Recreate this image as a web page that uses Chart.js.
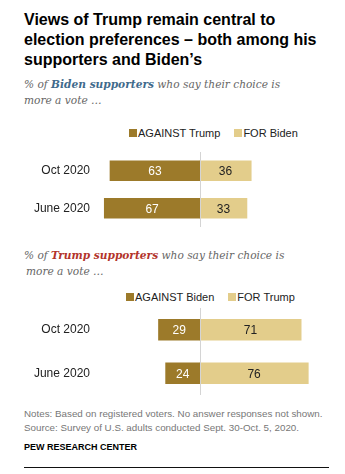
<!DOCTYPE html>
<html>
<head>
<meta charset="utf-8">
<script src="https://cdn.jsdelivr.net/npm/chart.js@4.4.1/dist/chart.umd.min.js"></script>
<style>
  body { margin: 0; background: #fff; font-family: "Liberation Sans", Arial, sans-serif; }
  #page { position: relative; width: 345px; height: 474px; overflow: hidden; background: #fff; }
  h1 { position: absolute; left: 24px; top: 10px; margin: 0; font-size: 16px; line-height: 20px; font-weight: bold; color: #000; white-space: nowrap; }
  .sub { position: absolute; left: 24px; margin: 0; font-family: "DejaVu Serif", serif; font-style: italic; font-size: 10.6px; line-height: 16px; color: #666; white-space: nowrap; }
  .sub b { font-weight: bold; }
  .legend { position: absolute; font-size: 11px; color: #222; height: 14px; line-height: 14px; white-space: nowrap; }
  .legend span.sw { display: inline-block; width: 8px; height: 8px; margin-right: 1px; }
  .chartbox { position: absolute; left: 0; width: 345px; }
  .notes { position: absolute; left: 24px; top: 407px; font-size: 9.8px; line-height: 14px; color: #777; white-space: nowrap; }
  .pew { position: absolute; left: 24px; top: 442px; font-size: 9px; font-weight: bold; color: #000; }
  .rule { position: absolute; left: 24px; top: 467px; width: 305px; height: 1px; background: #111; }
</style>
</head>
<body>
<div id="page">
  <h1>Views of Trump remain central to<br>election preferences – both among his<br>supporters and Biden’s</h1>

  <p class="sub" style="top:76px">% of <b style="color:#3f6a8c">Biden supporters</b> who say their choice is<br>more a vote …</p>
  <div class="legend" style="left:129px; top:126px">
    <span class="sw" style="background:#9c7a2a"></span>AGAINST Trump
    <span class="sw" style="background:#e3cd8b; margin-left:11px"></span>FOR Biden
  </div>
  <div class="chartbox" style="top:152px; height:75px"><canvas id="bidenChart"></canvas></div>

  <p class="sub" style="top:247px">% of <b style="color:#b3342b">Trump supporters</b> who say their choice is<br><span style="margin-left:2px">more a vote …</span></p>
  <div class="legend" style="left:126px; top:290px">
    <span class="sw" style="background:#9c7a2a"></span>AGAINST Biden
    <span class="sw" style="background:#e3cd8b; margin-left:11px"></span>FOR Trump
  </div>
  <div class="chartbox" style="top:308px; height:87px"><canvas id="trumpChart"></canvas></div>

  <div class="notes">Notes: Based on registered voters. No answer responses not shown.<br>Source: Survey of U.S. adults conducted Sept. 30-Oct. 5, 2020.</div>
  <div class="pew">PEW RESEARCH CENTER</div>
  <div class="rule"></div>
</div>

<script>
const periods = ["Oct 2020", "June 2020"];

// Biden supporters
const againstTrump = [63, 67];
const forBiden = [36, 33];

// Trump supporters
const againstBiden = [29, 24];
const forTrump = [71, 76];

const DARK = "#9c7a2a";
const LIGHT = "#e3cd8b";

// value labels inside each bar + the thin zero line
const barLabels = {
  id: "barLabels",
  afterDatasetsDraw(chart) {
    const ctx = chart.ctx;
    const x0 = chart.scales.x.getPixelForValue(0);
    const area = chart.chartArea;
    ctx.save();
    ctx.strokeStyle = "#d4d4d4";
    ctx.lineWidth = 1;
    ctx.beginPath();
    ctx.moveTo(Math.round(x0) + 0.5, area.top);
    ctx.lineTo(Math.round(x0) + 0.5, area.bottom);
    ctx.stroke();

    ctx.font = "12px 'Liberation Sans', Arial, sans-serif";
    ctx.textAlign = "center";
    ctx.textBaseline = "middle";
    chart.data.datasets.forEach((ds, i) => {
      chart.getDatasetMeta(i).data.forEach((bar, j) => {
        ctx.fillStyle = i === 0 ? "#fff" : "#222";
        ctx.fillText(Math.abs(ds.data[j]), (bar.x + bar.base) / 2, bar.y + 1);
      });
    });
    ctx.restore();
  }
};

function makeChart(id, against, pro, thickness) {
  return new Chart(document.getElementById(id), {
    type: "bar",
    data: {
      labels: periods,
      datasets: [
        { data: against.map(v => -v), backgroundColor: DARK, barThickness: thickness },
        { data: pro, backgroundColor: LIGHT, barThickness: thickness }
      ]
    },
    options: {
      indexAxis: "y",
      responsive: true,
      maintainAspectRatio: false,
      animation: false,
      layout: { padding: { left: 0, right: 31, top: 0, bottom: 0 } },
      plugins: { legend: { display: false }, tooltip: { enabled: false } },
      scales: {
        x: { display: false, stacked: true, min: -70, max: 80 },
        y: {
          stacked: true,
          grid: { display: false, drawTicks: false },
          border: { display: false },
          ticks: { padding: 10, color: "#222", font: { family: "'Liberation Sans', Arial, sans-serif", size: 12 } },
          afterFit(scale) {
            // fixed label column, no extra room above/below the bars
            scale.width = 100;
            scale.paddingTop = 0;
            scale.paddingBottom = 0;
          }
        }
      }
    },
    plugins: [barLabels]
  });
}

makeChart("bidenChart", againstTrump, forBiden, 20);
makeChart("trumpChart", againstBiden, forTrump, 21);
</script>
</body>
</html>
